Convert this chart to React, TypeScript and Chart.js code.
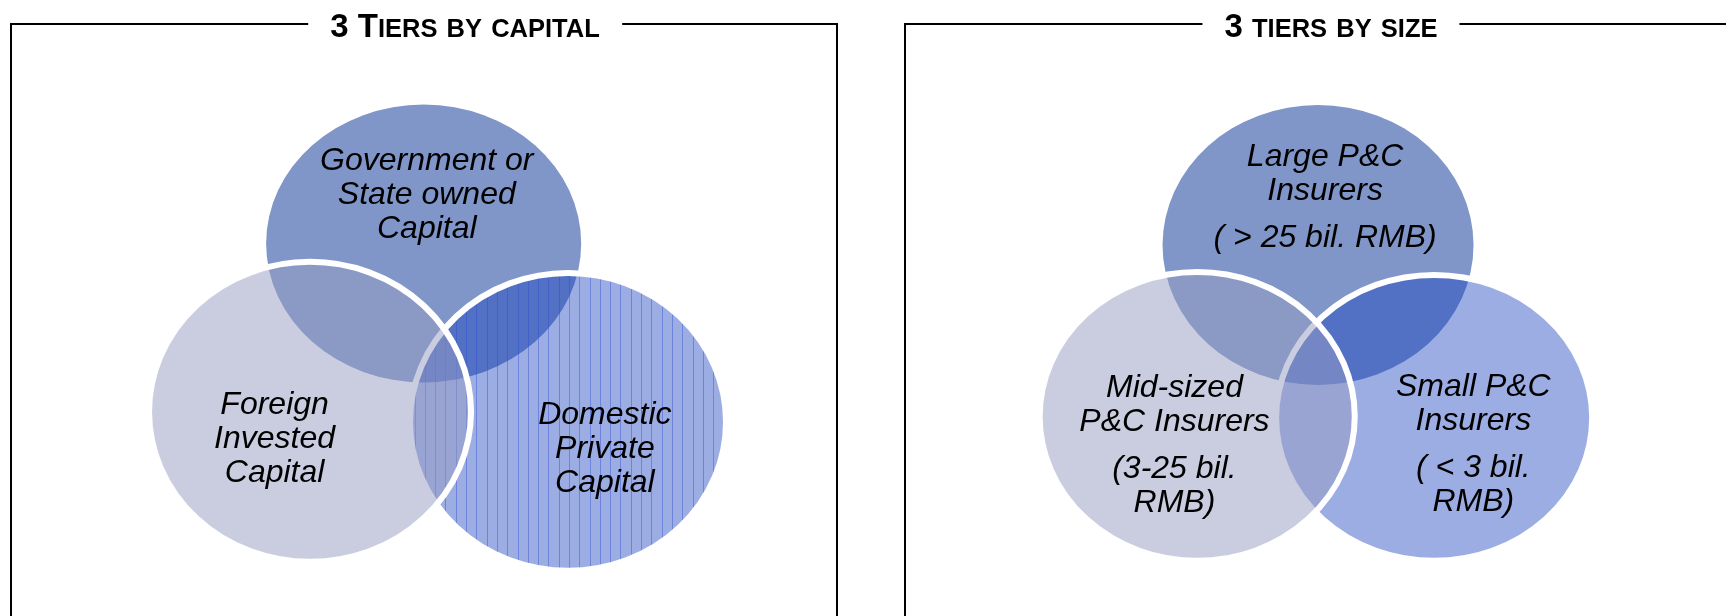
import React, { useEffect, useRef } from "react";
import { Chart, registerables } from "chart.js";

Chart.register(...registerables);

const CANVAS_W = 1726;
const CANVAS_H = 616;

// Panel titles (small caps: lower-case letters are drawn as small capitals)
const panelTitles = ["3 Tiers by capital", "3 tiers by size"];
const panelTitleX = [465, 1331];

// Panel 1: three tiers by capital (diagram units)
const capitalNames = ["Government or State owned Capital", "Foreign Invested Capital", "Domestic Private Capital"];
const capitalX = [27.0, 19.76, 36.2];
const capitalY = [17.0, 28.75, 29.45];
const capitalRX = [10.04, 10.26, 10.07];
const capitalRY = [9.7, 10.47, 10.4];
const capitalLabels = [
  ["Government or", "State owned", "Capital"],
  ["Foreign", "Invested", "Capital"],
  ["Domestic", "Private", "Capital"],
];
const capitalLabelX = [27.2, 17.5, 38.55];
const capitalLabelY = [11.25, 28.3, 28.95];

// Panel 2: three tiers by size
const sizeNames = ["Large P&C Insurers", "Mid-sized P&C Insurers", "Small P&C Insurers"];
const sizeX = [84.0, 76.3, 91.4];
const sizeY = [17.1, 29.07, 29.17];
const sizeRX = [9.91, 10.04, 10.07];
const sizeRY = [9.77, 10.08, 9.98];
const sizeLabels = [
  ["Large P&C", "Insurers", "", "( > 25 bil. RMB)"],
  ["Mid-sized", "P&C Insurers", "", "(3-25 bil.", "RMB)"],
  ["Small P&C", "Insurers", "", "( < 3 bil.", "RMB)"],
];
const sizeLabelX = [84.45, 74.85, 93.9];
const sizeLabelY = [10.95, 27.07, 27.05];

// styles per role: 0 = top, 1 = left, 2 = right
const roleFill = ["#8096c8", "rgba(149,155,193,0.5)", "rgba(20,60,190,0.42)"];
const roleStroke = [false, true, true];
const drawOrder = [0, 2, 1];

function buildDatasets(
  names: string[], xs: number[], ys: number[], rxs: number[], rys: number[],
  labels: string[][], lx: number[], ly: number[], stripedRole: number
) {
  return drawOrder.map((i) => ({
    label: names[i],
    data: [{ x: xs[i], y: ys[i] }],
    pointRadius: 0,
    pointHoverRadius: 0,
    showLine: false,
    vennRX: rxs[i],
    vennRY: rys[i],
    vennFill: roleFill[i],
    vennStroke: roleStroke[i],
    vennStripes: i === stripedRole,
    vennLabel: labels[i],
    vennLabelX: lx[i],
    vennLabelY: ly[i],
  }));
}

const vennPlugin = {
  id: "venn",
  afterDatasetsDraw(chart: any) {
    const ctx: CanvasRenderingContext2D = chart.ctx;
    const xs = chart.scales.x;
    const ys = chart.scales.y;
    chart.data.datasets.forEach((ds: any, di: number) => {
      const meta = chart.getDatasetMeta(di);
      const el = meta.data[0];
      const raw = ds.data[0];
      const cx = el.x;
      const cy = el.y;
      const rx = Math.abs(xs.getPixelForValue(raw.x + ds.vennRX) - cx);
      const ry = Math.abs(ys.getPixelForValue(raw.y + ds.vennRY) - cy);
      ctx.save();
      ctx.beginPath();
      ctx.ellipse(cx, cy, rx, ry, 0, 0, Math.PI * 2);
      ctx.fillStyle = ds.vennFill;
      ctx.fill();
      if (ds.vennStripes) {
        ctx.clip();
        ctx.strokeStyle = "rgba(45,75,210,0.42)";
        ctx.lineWidth = 1;
        for (let x = Math.floor(cx - rx) + 4.5; x < cx + rx; x += 10.3) {
          ctx.beginPath();
          ctx.moveTo(Math.round(x) + 0.5, cy - ry);
          ctx.lineTo(Math.round(x) + 0.5, cy + ry);
          ctx.stroke();
        }
      }
      ctx.restore();
      if (ds.vennStroke) {
        ctx.save();
        ctx.beginPath();
        ctx.ellipse(cx, cy, rx, ry, 0, 0, Math.PI * 2);
        ctx.lineWidth = 6;
        ctx.strokeStyle = "#ffffff";
        ctx.stroke();
        ctx.restore();
      }
    });
    // labels
    ctx.save();
    ctx.fillStyle = "#000";
    ctx.font = "italic 32px 'Liberation Sans', Arial, sans-serif";
    ctx.textAlign = "center";
    ctx.textBaseline = "middle";
    chart.data.datasets.forEach((ds: any) => {
      const x = xs.getPixelForValue(ds.vennLabelX);
      let y = ys.getPixelForValue(ds.vennLabelY);
      ds.vennLabel.forEach((line: string) => {
        if (line === "") {
          y += 13;
        } else {
          ctx.fillText(line, x, y);
          y += 34;
        }
      });
    });
    ctx.restore();
  },
};

function SmallCaps({ text }: { text: string }) {
  const runs: { big: boolean; s: string }[] = [];
  for (const ch of text) {
    const big = !(ch >= "a" && ch <= "z");
    const last = runs[runs.length - 1];
    if (last && last.big === big) last.s += ch;
    else runs.push({ big, s: ch });
  }
  return (
    <>
      {runs.map((r, i) => (
        <span key={i} style={{ fontSize: r.big ? 33 : 25.5 }}>{r.s.toUpperCase()}</span>
      ))}
    </>
  );
}

export default function App() {
  const ref = useRef<HTMLCanvasElement>(null);
  useEffect(() => {
    const datasets = [
      ...buildDatasets(capitalNames, capitalX, capitalY, capitalRX, capitalRY, capitalLabels, capitalLabelX, capitalLabelY, 2),
      ...buildDatasets(sizeNames, sizeX, sizeY, sizeRX, sizeRY, sizeLabels, sizeLabelX, sizeLabelY, -1),
    ];
    const chart = new Chart(ref.current as HTMLCanvasElement, {
      type: "scatter",
      data: { datasets: datasets as any },
      options: {
        animation: false,
        responsive: false,
        events: [],
        layout: { padding: 0 },
        plugins: { legend: { display: false }, tooltip: { enabled: false } },
        scales: {
          x: { type: "linear", min: 0, max: 110, display: false },
          y: { type: "linear", min: 0, max: 43, reverse: true, display: false },
        },
      } as any,
      plugins: [vennPlugin as any],
    });
    return () => chart.destroy();
  }, []);

  const titleStyle = (cx: number): React.CSSProperties => ({
    position: "absolute",
    left: cx,
    top: 25,
    transform: "translate(-50%, -50%)",
    background: "#fff",
    padding: "0 22px",
    whiteSpace: "nowrap",
    fontFamily: "'Liberation Sans', Arial, sans-serif",
    fontWeight: "bold",
    fontSize: 33,
    lineHeight: 1,
    color: "#000",
  });

  return (
    <div style={{ position: "fixed", left: 0, top: 0, width: CANVAS_W, height: CANVAS_H, overflow: "hidden", background: "#fff" }}>
      <div style={{ position: "absolute", left: 10, top: 23, width: 828, height: 700, border: "2px solid #000", boxSizing: "border-box" }} />
      <div style={{ position: "absolute", left: 904, top: 23, width: 900, height: 700, border: "2px solid #000", boxSizing: "border-box" }} />
      <canvas ref={ref} width={CANVAS_W} height={CANVAS_H} style={{ position: "absolute", left: 0, top: 0 }} />
      {panelTitles.map((t, i) => (
        <div key={i} style={titleStyle(panelTitleX[i])}><SmallCaps text={t} /></div>
      ))}
    </div>
  );
}
